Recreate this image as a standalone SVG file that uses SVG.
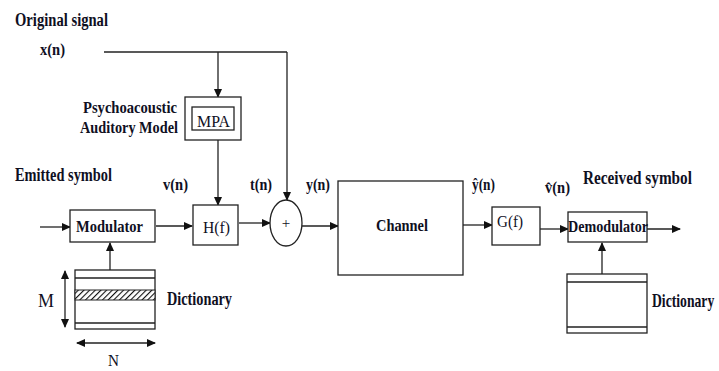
<svg xmlns="http://www.w3.org/2000/svg" width="719" height="371" viewBox="0 0 719 371">
<style>
.t{font-family:"Liberation Serif","Times New Roman",serif;fill:#10101f;}
.b{font-weight:bold;}
.box{fill:#fff;stroke:#222;stroke-width:1.3;}
.ln{fill:none;stroke:#222;stroke-width:1.3;}
.ar{fill:none;stroke:#222;stroke-width:1.3;marker-end:url(#ah);}
</style>
<defs>
<marker id="ah" markerWidth="9" markerHeight="8" refX="8" refY="4" orient="auto" markerUnits="userSpaceOnUse">
<path d="M0,0 L9,4 L0,8 z" fill="#111"/>
</marker>
<marker id="as" markerWidth="9" markerHeight="8" refX="1" refY="4" orient="auto" markerUnits="userSpaceOnUse">
<path d="M9,0 L0,4 L9,8 z" fill="#111"/>
</marker>
<pattern id="hatch" width="4" height="4" patternUnits="userSpaceOnUse" patternTransform="rotate(45)">
<rect width="4" height="4" fill="#fff"/>
<line x1="0" y1="0" x2="0" y2="4" stroke="#111" stroke-width="2.2"/>
</pattern>
</defs>
<rect width="719" height="371" fill="#fff"/>

<text class="t b" x="15" y="26" font-size="18" textLength="93" lengthAdjust="spacingAndGlyphs">Original signal</text>
<text class="t b" x="15" y="181" font-size="18" textLength="97" lengthAdjust="spacingAndGlyphs">Emitted symbol</text>
<text class="t b" x="583" y="184" font-size="18" textLength="109" lengthAdjust="spacingAndGlyphs">Received symbol</text>
<text class="t b" x="40" y="55" font-size="17" textLength="25" lengthAdjust="spacingAndGlyphs">x(n)</text>
<text class="t b" x="163" y="190" font-size="17" textLength="25" lengthAdjust="spacingAndGlyphs">v(n)</text>
<text class="t b" x="250" y="190" font-size="17" textLength="22" lengthAdjust="spacingAndGlyphs">t(n)</text>
<text class="t b" x="306" y="190" font-size="17" textLength="24" lengthAdjust="spacingAndGlyphs">y(n)</text>
<text class="t b" x="472" y="190" font-size="17" textLength="23" lengthAdjust="spacingAndGlyphs">ŷ(n)</text>
<text class="t b" x="545" y="193" font-size="17" textLength="25" lengthAdjust="spacingAndGlyphs">v̂(n)</text>
<text class="t b" x="83" y="113" font-size="17" textLength="94" lengthAdjust="spacingAndGlyphs">Psychoacoustic</text>
<text class="t b" x="80" y="133" font-size="17" textLength="98" lengthAdjust="spacingAndGlyphs">Auditory Model</text>

<g id="connectors">
<path class="ln" d="M104,52 H287"/>
<path class="ar" d="M218,52 V97"/>
<path class="ar" d="M287,52 V200"/>
<path class="ar" d="M218,140 V205"/>
<path class="ar" d="M40,227 H70"/>
<path class="ar" d="M156,226 H192"/>
<path class="ar" d="M239,223 H270"/>
<path class="ar" d="M302,226 H338"/>
<path class="ar" d="M463,225 H492"/>
<path class="ar" d="M540,229 H568"/>
<path class="ar" d="M647,229 H680"/>
<path class="ar" d="M110,270 V243"/>
<path class="ar" d="M602,274 V243"/>
<path class="ln" d="M65,271 V327" marker-start="url(#as)" marker-end="url(#ah)"/>
<path class="ln" d="M77,343 H155" marker-start="url(#as)" marker-end="url(#ah)"/>
</g>

<g id="mpa">
<rect class="box" x="185" y="97" width="56" height="43"/>
<rect class="box" x="192" y="107" width="42" height="23"/>
<text class="t" x="197" y="127" font-size="17" textLength="33" lengthAdjust="spacingAndGlyphs">MPA</text>
</g>

<g id="modulator">
<rect class="box" x="70" y="210" width="85" height="32"/>
<text class="t b" x="76" y="232" font-size="17" textLength="67" lengthAdjust="spacingAndGlyphs">Modulator</text>
</g>

<g id="hf">
<rect class="box" x="193" y="205" width="45" height="40"/>
<text class="t" x="203" y="233" font-size="17" textLength="27" lengthAdjust="spacingAndGlyphs">H(f)</text>
</g>

<g id="sum">
<ellipse class="box" cx="286" cy="223" rx="16" ry="23"/>
<text class="t" x="286" y="228" font-size="15" text-anchor="middle">+</text>
</g>

<g id="channel">
<rect class="box" x="338" y="181" width="125" height="94"/>
<text class="t b" x="376" y="231" font-size="17" textLength="52" lengthAdjust="spacingAndGlyphs">Channel</text>
</g>

<g id="gf">
<rect class="box" x="492" y="207" width="48" height="38"/>
<text class="t" x="497" y="227" font-size="17" textLength="26" lengthAdjust="spacingAndGlyphs">G(f)</text>
</g>

<g id="demodulator">
<rect class="box" x="568" y="212" width="79" height="30"/>
<text class="t b" x="568" y="232" font-size="17" textLength="80" lengthAdjust="spacingAndGlyphs">Demodulator</text>
</g>

<g id="dictionary-tx">
<rect class="box" x="75" y="270" width="80" height="59"/>
<path class="ln" d="M75,278 H155 M75,323 H155"/>
<rect x="75" y="290" width="80" height="10" fill="url(#hatch)" stroke="#222" stroke-width="1"/>
<text class="t" x="38" y="307" font-size="18" textLength="16" lengthAdjust="spacingAndGlyphs">M</text>
<text class="t" x="108" y="366" font-size="17" textLength="11" lengthAdjust="spacingAndGlyphs">N</text>
<text class="t b" x="167" y="305" font-size="18" textLength="65" lengthAdjust="spacingAndGlyphs">Dictionary</text>
</g>

<g id="dictionary-rx">
<rect class="box" x="567" y="274" width="80" height="59"/>
<path class="ln" d="M567,282 H647 M567,327 H647"/>
<text class="t b" font-size="18" transform="translate(652,307) scale(0.76,1)">Dictionary</text>
</g>
</svg>
